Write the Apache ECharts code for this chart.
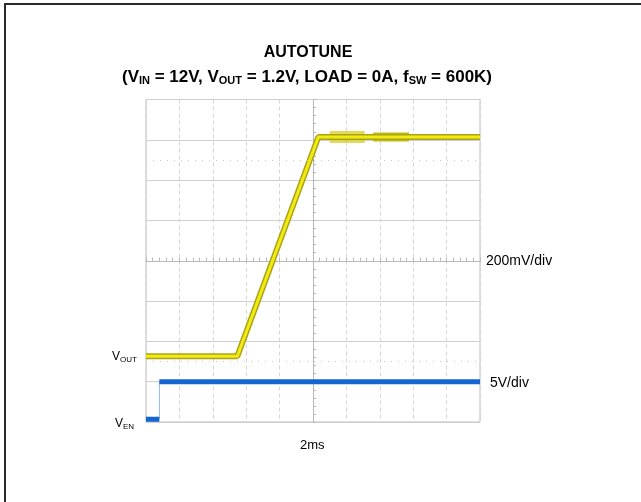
<!DOCTYPE html>
<html><head><meta charset="utf-8">
<script src="https://cdn.jsdelivr.net/npm/echarts@6/dist/echarts.min.js"></script>
<style>html,body{margin:0;padding:0;background:#fff}#c{width:641px;height:502px}</style>
</head><body><div id="c"></div>
<script>
// time in ms relative to screen centre (2 ms/div), level in divisions relative to centre
const voutTime  = [-10, -4.53, 0.32, 10];
const voutLevel = [-2.37, -2.37, 3.07, 3.07];
const voutNoiseA = [[1.0, 3.07], [3.1, 3.07]];
const voutNoiseB = [[3.6, 3.07], [5.75, 3.07]];
const venTime  = [-10, -9.2, -9.2, 10];
const venLevel = [-3.93, -3.93, -3.0, -3.0];
const xTicks = { min: -10, max: 10, interval: 2 };
const yTicks = { min: -4, max: 4, interval: 1 };

const vout = voutTime.map((t, i) => [t, voutLevel[i]]);
const venLow = [[venTime[0], venLevel[0]], [venTime[1], venLevel[1]]];
const venHigh = [[venTime[2], venLevel[2]], [venTime[3], venLevel[3]]];
const venEdge = [[venTime[1], venLevel[1]], [venTime[2], venLevel[2]]];

const chart = echarts.init(document.getElementById('c'));
const font = 'Liberation Sans, Arial, sans-serif';
const axX = (inside, idx) => ({
  type: 'value', min: xTicks.min, max: xTicks.max, interval: xTicks.interval,
  axisLine: { show: true, onZero: true, lineStyle: { color: '#b8b8b8', width: 1 } },
  axisTick: { show: true, inside: inside, length: 3, lineStyle: { color: '#b8b8b8' } },
  minorTick: { show: true, splitNumber: 5, length: 3, lineStyle: { color: '#b8b8b8' } },
  axisLabel: { show: false },
  splitLine: { show: idx === 0, lineStyle: { color: '#d6d6d6', type: [4, 3], width: 1 } }
});
const axY = (inside, idx) => ({
  type: 'value', min: yTicks.min, max: yTicks.max, interval: yTicks.interval,
  axisLine: { show: true, onZero: true, lineStyle: { color: '#b8b8b8', width: 1 } },
  axisTick: { show: true, inside: inside, length: 3, lineStyle: { color: '#b8b8b8' } },
  minorTick: { show: true, splitNumber: 5, length: 3, lineStyle: { color: '#b8b8b8' } },
  axisLabel: { show: false },
  splitLine: { show: idx === 0, lineStyle: { color: '#cfcfcf', width: 1 } }
});
const subLabel = (main, sub, x, y) => ({ type: 'text', x: x, y: y, style: {
  text: '{m|' + main + '}{s|' + sub + '}', align: 'right', verticalAlign: 'middle',
  rich: { m: { font: '12px ' + font, fill: '#000', lineHeight: 16 },
          s: { font: '8px ' + font, fill: '#000', lineHeight: 16, padding: [6, 0, 0, 0] } } } });

chart.setOption({
  animation: false,
  backgroundColor: '#fff',
  grid: { left: 146, top: 99.5, width: 334, height: 322.5, show: true, borderColor: '#bdbdbd', borderWidth: 1, containLabel: false },
  xAxis: [axX(true, 0), axX(false, 1)],
  yAxis: [axY(true, 0), axY(false, 1)],
  graphic: [
    { type: 'rect', shape: { x: 5, y: 4, width: 700, height: 600 }, style: { fill: 'none', stroke: '#2a2a2a', lineWidth: 2 }, z: 100 },
    { type: 'text', x: 308, y: 53, style: { text: 'AUTOTUNE', font: 'bold 16px ' + font, fill: '#000', align: 'center', verticalAlign: 'middle' } },
    { type: 'text', x: 307, y: 77, style: {
      text: '{m|(V}{s|IN}{m| = 12V, V}{s|OUT}{m| = 1.2V, LOAD = 0A, f}{s|SW}{m| = 600K)}',
      align: 'center', verticalAlign: 'middle',
      rich: {
        m: { font: 'bold 17px ' + font, fill: '#000', lineHeight: 20 },
        s: { font: 'bold 11px ' + font, fill: '#000', lineHeight: 20, padding: [8, 0, 0, 0] }
      } } },
    subLabel('V', 'OUT', 137, 357),
    subLabel('V', 'EN', 134, 424),
    { type: 'text', x: 486, y: 261, style: { text: '200mV/div', font: '14px ' + font, fill: '#000', verticalAlign: 'middle' } },
    { type: 'text', x: 490, y: 383, style: { text: '5V/div', font: '14px ' + font, fill: '#000', verticalAlign: 'middle' } },
    { type: 'text', x: 300, y: 445, style: { text: '2ms', font: '13px ' + font, fill: '#000', verticalAlign: 'middle' } }
  ],
  series: [
    { type: 'line', data: [], markLine: { silent: true, symbol: 'none', label: { show: false },
        lineStyle: { color: '#c8c8c8', type: [1, 6], width: 1 }, data: [{ yAxis: 2.5 }, { yAxis: -2.5 }] } },
    { type: 'line', data: voutNoiseA, showSymbol: false, lineStyle: { color: 'rgba(215,205,40,0.75)', width: 12 }, z: 3 },
    { type: 'line', data: voutNoiseB, showSymbol: false, lineStyle: { color: '#c2ba1a', width: 9 }, z: 3 },
    { type: 'line', data: vout, showSymbol: false, lineStyle: { color: '#a8a418', width: 6 }, z: 4 },
    { type: 'line', data: vout, showSymbol: false, lineStyle: { color: '#f2ea10', width: 3 }, z: 5 },
    { type: 'line', data: venEdge, showSymbol: false, lineStyle: { color: '#8fb6e8', width: 1 }, z: 4 },
    { type: 'line', data: venLow, showSymbol: false, lineStyle: { color: '#1464d2', width: 5 }, z: 5 },
    { type: 'line', data: venHigh, showSymbol: false, lineStyle: { color: '#1464d2', width: 5 }, z: 5 }
  ]
});
</script></body></html>
